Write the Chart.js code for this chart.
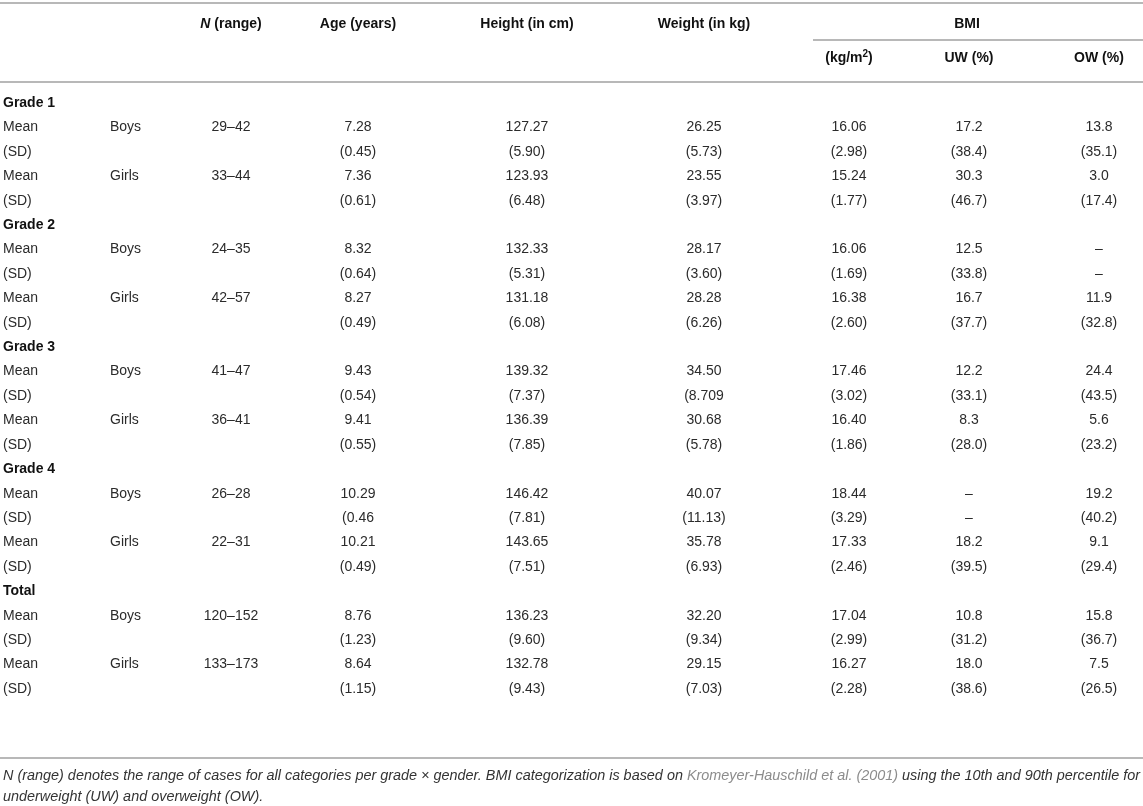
<!DOCTYPE html>
<html>
<head>
<meta charset="utf-8">
<script src="https://cdn.jsdelivr.net/npm/chart.js@4.4.1/dist/chart.umd.min.js"></script>
<style>
    html, body { margin: 0; padding: 0; background: #fff; }
    #wrap { width: 1143px; height: 806px; position: relative; }
</style>
</head>
<body>
<div id="wrap"><canvas id="tableChart"></canvas></div>
<script>
// Données du tableau
var grades = ['Grade 1', 'Grade 2', 'Grade 3', 'Grade 4', 'Total'];
var genders = ['Boys', 'Girls'];
var statLabels = ['Mean', '(SD)'];
var columnHeads = ['N (range)', 'Age (years)', 'Height (in cm)', 'Weight (in kg)', '(kg/m2)', 'UW (%)', 'OW (%)'];
var groupHead = 'BMI';

// un élément par grade x genre : G1 garçons, G1 filles, G2 garçons, ...
var nRange = ['29–42', '33–44', '24–35', '42–57', '41–47', '36–41', '26–28', '22–31', '120–152', '133–173'];
var ageMean = ['7.28', '7.36', '8.32', '8.27', '9.43', '9.41', '10.29', '10.21', '8.76', '8.64'];
var ageSD = ['(0.45)', '(0.61)', '(0.64)', '(0.49)', '(0.54)', '(0.55)', '(0.46', '(0.49)', '(1.23)', '(1.15)'];
var heightMean = ['127.27', '123.93', '132.33', '131.18', '139.32', '136.39', '146.42', '143.65', '136.23', '132.78'];
var heightSD = ['(5.90)', '(6.48)', '(5.31)', '(6.08)', '(7.37)', '(7.85)', '(7.81)', '(7.51)', '(9.60)', '(9.43)'];
var weightMean = ['26.25', '23.55', '28.17', '28.28', '34.50', '30.68', '40.07', '35.78', '32.20', '29.15'];
var weightSD = ['(5.73)', '(3.97)', '(3.60)', '(6.26)', '(8.709', '(5.78)', '(11.13)', '(6.93)', '(9.34)', '(7.03)'];
var bmiMean = ['16.06', '15.24', '16.06', '16.38', '17.46', '16.40', '18.44', '17.33', '17.04', '16.27'];
var bmiSD = ['(2.98)', '(1.77)', '(1.69)', '(2.60)', '(3.02)', '(1.86)', '(3.29)', '(2.46)', '(2.99)', '(2.28)'];
var uwPct = ['17.2', '30.3', '12.5', '16.7', '12.2', '8.3', '–', '18.2', '10.8', '18.0'];
var uwSD = ['(38.4)', '(46.7)', '(33.8)', '(37.7)', '(33.1)', '(28.0)', '–', '(39.5)', '(31.2)', '(38.6)'];
var owPct = ['13.8', '3.0', '–', '11.9', '24.4', '5.6', '19.2', '9.1', '15.8', '7.5'];
var owSD = ['(35.1)', '(17.4)', '–', '(32.8)', '(43.5)', '(23.2)', '(40.2)', '(29.4)', '(36.7)', '(26.5)'];

var footLine1 = [
    ['N (range) denotes the range of cases for all categories per grade × gender. BMI categorization is based on ', '#333'],
    ['Kromeyer-Hauschild et al. (2001)', '#8c8c8c'],
    [' using the 10th and 90th percentile for', '#333']
];
var footLine2 = [['underweight (UW) and overweight (OW).', '#333']];

// mise en page (x en pixels, y en unités de ligne)
var colX = [231, 358, 527, 704, 849, 969, 1099];
var bmiHeadX = 967;
var labelX = 3, genderX = 110;
var bmiLineX = 813;
var rowsTop = -4.218, rowsBottom = 28.79;
var headRow1 = -3.23, headRow2 = -1.84;
var topLine = -4.1, bmiLine = -2.6, headLine = -0.86, bottomLine = 26.83;
var footRow1 = 27.57, footRow2 = 28.43;
var bodyFont = '14px "Liberation Sans", Arial, sans-serif';
var boldFont = 'bold 14px "Liberation Sans", Arial, sans-serif';

var columns = [[nRange, null], [ageMean, ageSD], [heightMean, heightSD], [weightMean, weightSD],
    [bmiMean, bmiSD], [uwPct, uwSD], [owPct, owSD]];

var labelPts = [], genderPts = [];
var colPts = columns.map(function () { return []; });
var row = 0;
grades.forEach(function (g, gi) {
    labelPts.push({ x: labelX, y: row, t: g, bold: true });
    row++;
    genders.forEach(function (sex, si) {
        var k = gi * 2 + si;
        labelPts.push({ x: labelX, y: row, t: statLabels[0] });
        labelPts.push({ x: labelX, y: row + 1, t: statLabels[1] });
        genderPts.push({ x: genderX, y: row, t: sex });
        columns.forEach(function (c, ci) {
            colPts[ci].push({ x: colX[ci], y: row, t: c[0][k] });
            if (c[1]) colPts[ci].push({ x: colX[ci], y: row + 1, t: c[1][k] });
        });
        row += 2;
    });
});

var datasets = [
    { label: 'labels', data: labelPts, align: 'left' },
    { label: 'gender', data: genderPts, align: 'left' }
];
colPts.forEach(function (pts, ci) {
    datasets.push({ label: columnHeads[ci], data: pts, align: 'center' });
});

function drawRich(ctx, parts, x, y, align) {
    var w = 0;
    parts.forEach(function (p) { ctx.font = p.font; w += ctx.measureText(p.t).width; });
    var cx = align === 'center' ? x - w / 2 : x;
    parts.forEach(function (p) {
        ctx.font = p.font;
        ctx.textAlign = 'left';
        ctx.fillText(p.t, cx, y + (p.dy || 0));
        cx += ctx.measureText(p.t).width;
    });
}

var tablePlugin = {
    id: 'tableText',
    afterDatasetsDraw: function (chart) {
        var ctx = chart.ctx, sx = chart.scales.x, sy = chart.scales.y;
        ctx.save();
        ctx.textBaseline = 'middle';

        // filets
        ctx.strokeStyle = '#b8b8b8';
        ctx.lineWidth = 2;
        [[0, 1143, topLine], [bmiLineX, 1143, bmiLine], [0, 1143, headLine], [0, 1143, bottomLine]].forEach(function (l) {
            var yy = Math.round(sy.getPixelForValue(l[2]));
            ctx.beginPath();
            ctx.moveTo(sx.getPixelForValue(l[0]), yy);
            ctx.lineTo(sx.getPixelForValue(l[1]), yy);
            ctx.stroke();
        });

        // en-têtes
        ctx.fillStyle = '#111';
        var y1 = sy.getPixelForValue(headRow1), y2 = sy.getPixelForValue(headRow2);
        drawRich(ctx, [{ t: 'N', font: 'italic ' + boldFont }, { t: ' (range)', font: boldFont }],
            sx.getPixelForValue(colX[0]), y1, 'center');
        for (var c = 1; c < 4; c++) {
            drawRich(ctx, [{ t: columnHeads[c], font: boldFont }], sx.getPixelForValue(colX[c]), y1, 'center');
        }
        drawRich(ctx, [{ t: groupHead, font: boldFont }], sx.getPixelForValue(bmiHeadX), y1, 'center');
        drawRich(ctx, [{ t: '(kg/m', font: boldFont }, { t: '2', font: 'bold 10px "Liberation Sans", Arial, sans-serif', dy: -4 },
            { t: ')', font: boldFont }], sx.getPixelForValue(colX[4]), y2, 'center');
        drawRich(ctx, [{ t: columnHeads[5], font: boldFont }], sx.getPixelForValue(colX[5]), y2, 'center');
        drawRich(ctx, [{ t: columnHeads[6], font: boldFont }], sx.getPixelForValue(colX[6]), y2, 'center');

        // cellules
        chart.data.datasets.forEach(function (ds, i) {
            var meta = chart.getDatasetMeta(i);
            ctx.textAlign = ds.align;
            meta.data.forEach(function (pt, j) {
                var d = ds.data[j];
                ctx.font = d.bold ? boldFont : bodyFont;
                ctx.fillStyle = d.bold ? '#111' : '#2b2b2b';
                ctx.fillText(d.t, pt.x, pt.y);
            });
        });

        // note de bas de tableau (police étroite simulée)
        var footFont = 'italic 14px "Liberation Sans", Arial, sans-serif';
        ctx.font = footFont;
        var total = 0;
        footLine1.forEach(function (s) { total += ctx.measureText(s[0]).width; });
        var scale = 1137 / total;
        [[footLine1, footRow1], [footLine2, footRow2]].forEach(function (fl) {
            var yy = sy.getPixelForValue(fl[1]);
            var cx = 3;
            fl[0].forEach(function (s) {
                ctx.save();
                ctx.translate(cx, yy);
                ctx.scale(scale, 1);
                ctx.textAlign = 'left';
                ctx.fillStyle = s[1];
                ctx.fillText(s[0], 0, 0);
                ctx.restore();
                cx += ctx.measureText(s[0]).width * scale;
            });
        });
        ctx.restore();
    }
};

var chart = new Chart(document.getElementById('tableChart').getContext('2d'), {
    type: 'scatter',
    data: { datasets: datasets },
    options: {
        responsive: true,
        maintainAspectRatio: false,
        animation: false,
        events: [],
        layout: { padding: 0 },
        elements: { point: { radius: 0, hoverRadius: 0 } },
        plugins: { legend: { display: false }, tooltip: { enabled: false } },
        scales: {
            x: { type: 'linear', min: 0, max: 1143, display: false },
            y: { type: 'linear', reverse: true, min: rowsTop, max: rowsBottom, display: false }
        }
    },
    plugins: [tablePlugin]
});
</script>
</body>
</html>
